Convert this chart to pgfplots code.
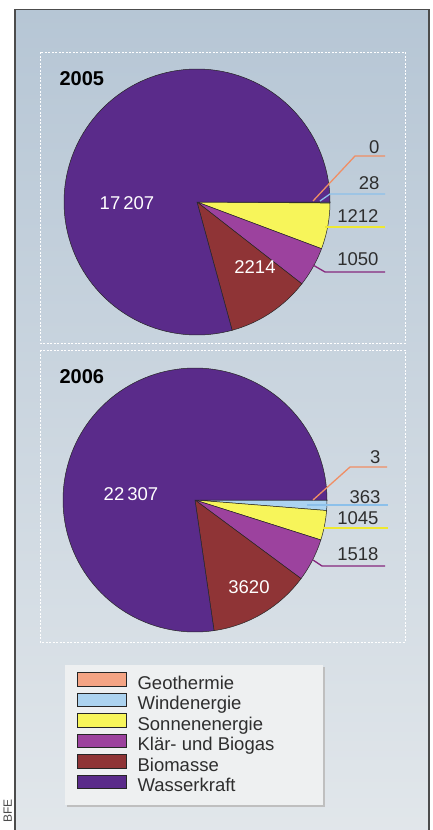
\documentclass[border=0pt]{standalone}
\usepackage{pgfplots}
\pgfplotsset{compat=1.18}
\usepackage{pgfplotstable}
\usepackage{fontspec}
\setmainfont{Liberation Sans}
\definecolor{geo}{HTML}{F4A484}
\definecolor{wind}{HTML}{ACD3F0}
\definecolor{sonne}{HTML}{F7F55A}
\definecolor{klaer}{HTML}{9C429E}
\definecolor{bio}{HTML}{8F3436}
\definecolor{wasser}{HTML}{5A2B8A}
\definecolor{geoline}{HTML}{F08E64}
\definecolor{windline}{HTML}{8CC0EA}
\definecolor{sonneline}{HTML}{EEE830}
\definecolor{klaerline}{HTML}{86287E}
\definecolor{bgtop}{HTML}{B6C6D5}
\definecolor{bgbot}{HTML}{E2E7EB}
\definecolor{legbg}{HTML}{EEF0F1}
\definecolor{txt}{HTML}{2E2E2E}

\pgfplotstableread{
name col v2005 v2006
Geothermie geo 0 3
Windenergie wind 28 363
Sonnenenergie sonne 1212 1045
Klaer klaer 1050 1518
Biomasse bio 2214 3620
Wasserkraft wasser 17207 22307
}\energy

\newcommand\drawpie[1]{%
  \edef\pietotal{0}%
  \pgfplotsforeachungrouped \i in {0,...,5}{%
    \pgfplotstablegetelem{\i}{#1}\of\energy
    \edef\pietotal{\fpeval{\pietotal+\pgfplotsretval}}%
  }%
  \edef\piecum{0}%
  \pgfplotsforeachungrouped \i in {0,...,5}{%
    \pgfplotstablegetelem{\i}{#1}\of\energy
    \let\pieval\pgfplotsretval
    \pgfplotstablegetelem{\i}{col}\of\energy
    \let\piecol\pgfplotsretval
    \edef\piestart{\fpeval{-360*\piecum/\pietotal}}%
    \edef\piecum{\fpeval{\piecum+\pieval}}%
    \edef\piestop{\fpeval{-360*\piecum/\pietotal}}%
    \edef\piestop{\fpeval{(\piestart-\piestop<0.05) ? (\piestart-0.05) : \piestop}}%
    \edef\piecmd{\noexpand\addplot[fill=\piecol, draw=black!85, line width=0.5pt, domain=\piestop:\piestart, samples=120, forget plot] ({cos(x)},{sin(x)}) -- (axis cs:0,0) -- cycle;}%
    \piecmd
  }%
}

\begin{document}
\begin{tikzpicture}[x=1pt,y=-1pt]
\useasboundingbox (0,0) rectangle (433,830);
\fill[white] (0,0) rectangle (433,830);
% outer frame
\shade[top color=bgtop, bottom color=bgbot] (15,9.5) rectangle (429,845);
\draw[black!70, line width=1.3pt] (15,845) -- (15,9.5) -- (429,9.5) -- (429,845);
% panels
\draw[white, line width=0.6pt, dash pattern=on 2pt off 1.5pt] (40,52) rectangle (405,343);
\draw[white, line width=0.6pt, dash pattern=on 2pt off 1.5pt] (40,350) rectangle (405,642);
% legend box
\fill[black!25] (67,667) rectangle (325,807);
\fill[legbg] (65,665) rectangle (323,805);

% pie 2005
\begin{axis}[hide axis, x=133pt, y=133pt, xmin=-1.05, xmax=1.05, ymin=-1.05, ymax=1.05,
  anchor=origin, at={(197pt,-202pt)}, clip=false, scale only axis]
\drawpie{v2005}
\end{axis}
% pie 2006
\begin{axis}[hide axis, x=132pt, y=132pt, xmin=-1.05, xmax=1.05, ymin=-1.05, ymax=1.05,
  anchor=origin, at={(195pt,-500pt)}, clip=false, scale only axis]
\drawpie{v2006}
\end{axis}

% legend
\begin{axis}[hide axis, scale only axis, width=258pt, height=140pt,
  xmin=0, xmax=1, ymin=0, ymax=1, anchor=north west, at={(65pt,-665pt)},
  legend cell align=left,
  legend style={at={(0,1)}, anchor=north west, draw=none, fill=none,
    inner xsep=12pt, inner ysep=11pt, row sep=3.5pt, column sep=11pt,
    font=\fontsize{18.5}{20}\selectfont, text=txt,
    nodes={inner sep=0pt, text height=13pt, text depth=4pt}},
  legend image code/.code={\path (0pt,0pt) rectangle (49pt,0pt);
     \draw[#1, draw=black!85, line width=0.7pt, overlay] (0pt,-1.5pt) rectangle (49pt,12pt);}]
\addlegendimage{fill=geo}\addlegendentry{Geothermie}
\addlegendimage{fill=wind}\addlegendentry{Windenergie}
\addlegendimage{fill=sonne}\addlegendentry{Sonnenenergie}
\addlegendimage{fill=klaer}\addlegendentry{Klär- und Biogas}
\addlegendimage{fill=bio}\addlegendentry{Biomasse}
\addlegendimage{fill=wasser}\addlegendentry{Wasserkraft}
\end{axis}

% titles
\node[anchor=base west, font=\bfseries\fontsize{20}{24}\selectfont] at (56,85) {2005};
\node[anchor=base west, font=\bfseries\fontsize{20}{24}\selectfont] at (56,383) {2006};

% inner labels
\begin{scope}[every node/.style={font=\fontsize{18.5}{20}\selectfont, text=white, anchor=base}]
\node at (127,209) {17\,207};
\node at (255,273) {2214};
\node at (131,500) {22\,307};
\node at (249,593) {3620};
\end{scope}

% leader lines 2005
\draw[geoline, line width=1.3pt] (313,201) -- (355,156) -- (385,156);
\draw[windline, line width=1.3pt] (320,201) -- (330,194) -- (385,194);
\draw[sonneline, line width=1.3pt] (325,227) -- (385,227);
\draw[klaerline, line width=1.3pt] (313,265) -- (325,272) -- (385,272);
% leader lines 2006
\draw[geoline, line width=1.3pt] (313,500) -- (350,467) -- (387,467);
\draw[windline, line width=1.3pt] (307,505) -- (388,505);
\draw[sonneline, line width=1.3pt] (323,528) -- (388,528);
\draw[klaerline, line width=1.3pt] (313,560) -- (322,566) -- (385,566);

% outer labels
\begin{scope}[every node/.style={font=\fontsize{18.5}{20}\selectfont, text=txt, anchor=base east}]
\node at (383,153) {0};
\node at (383,189) {28};
\node at (382,222) {1212};
\node at (382,265) {1050};
\node at (384,463) {3};
\node at (384,503) {363};
\node at (382,524) {1045};
\node at (382,560) {1518};
\end{scope}

\node[rotate=90, anchor=base east, font=\fontsize{12}{12}\selectfont, text=black!70] at (12,796) {BFE};
\end{tikzpicture}
\end{document}
